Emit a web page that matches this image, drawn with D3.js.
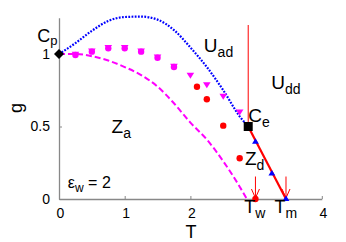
<!DOCTYPE html>
<html><head><meta charset="utf-8">
<script src="https://cdn.jsdelivr.net/npm/d3@7/dist/d3.min.js"></script>
<style>body{margin:0;background:#fff}svg{display:block;font-family:"Liberation Sans",Arial,sans-serif}</style>
</head><body><svg id="c" width="346" height="242"></svg>
<script>
// ---- data ----
const blueT = [0, 0.25, 0.5, 0.75, 1.0, 1.25, 1.5, 1.75, 2.0, 2.25, 2.5, 2.75, 2.88];
const blueG = [1.0, 1.075, 1.16, 1.228, 1.255, 1.258, 1.237, 1.165, 1.045, 0.91, 0.75, 0.57, 0.5];
const pinkT = [0, 0.25, 0.5, 0.75, 1.0, 1.25, 1.5, 1.75, 2.0, 2.25, 2.5, 2.75, 2.86];
const pinkG = [1.0, 1.0, 0.985, 0.955, 0.91, 0.855, 0.775, 0.66, 0.527, 0.41, 0.26, 0.085, 0];
const magCircT = [0.25, 0.5, 0.75, 1.0, 1.25, 1.5, 1.75];
const magCircG = [1.0, 1.023, 1.046, 1.046, 1.023, 0.981, 0.917];
const magTriT = [0.25, 0.5, 0.75, 1.0, 1.25, 1.5, 1.75, 2.0, 2.25, 2.5, 2.75];
const magTriG = [1.0, 1.023, 1.046, 1.046, 1.023, 0.981, 0.917, 0.855, 0.79, 0.71, 0.602];
const redT = [2.1, 2.25, 2.5, 2.75, 2.99];
const redG = [0.774, 0.688, 0.506, 0.281, 0];
const blueTriT = [2.99, 3.24, 3.455];
const blueTriG = [0.395, 0.177, 0];
const Cp = [0, 1];
const Ce = [2.88, 0.5];
const Tw = 2.99, Tm = 3.455;
const redVertTop = 1.2;
const arrowTop = 0.155;
const xTicks = [0, 1, 2, 3, 4];
const xTickLabels = ["0", "1", "2", "", "4"];
const yTicks = [0, 0.5, 1];
const yTickLabels = ["0", "0.5", "1"];

// ---- scales ----
const svg = d3.select("#c");
const x = d3.scaleLinear().domain([0, 4]).range([59, 321.8]);
const y = d3.scaleLinear().domain([0, 1.25]).range([199, 17.75]);
const zip = (a, b) => a.map((v, i) => [v, b[i]]);
const line = d3.line().x(d => x(d[0])).y(d => y(d[1])).curve(d3.curveMonotoneX);

// ---- axes ----
const gx = svg.append("g").attr("transform", `translate(0,${y(0)})`)
  .call(d3.axisBottom(x).tickValues(xTicks).tickFormat((d, i) => xTickLabels[i])
    .tickSizeInner(-3).tickSizeOuter(0).tickPadding(9));
const gy = svg.append("g").attr("transform", `translate(${x(0)},0)`)
  .call(d3.axisLeft(y).tickValues(yTicks).tickFormat((d, i) => yTickLabels[i])
    .tickSizeInner(-3).tickSizeOuter(0).tickPadding(9));
[gx, gy].forEach(g => {
  g.select(".domain").attr("stroke", "#888").attr("stroke-width", 1.3);
  g.selectAll(".tick line").attr("stroke", "#888");
  g.selectAll(".tick text").attr("font-size", 14).attr("fill", "#000")
    .attr("font-family", '"Liberation Sans",Arial,sans-serif');
});
gx.selectAll(".tick text").attr("dx", 1);

svg.append("text").attr("x", 191).attr("y", 238).attr("text-anchor", "middle")
  .attr("font-size", 18).text("T");
svg.append("text").attr("transform", "translate(22,108) rotate(-90)").attr("text-anchor", "middle")
  .attr("font-size", 18).text("g");

// ---- curves ----
svg.append("path").attr("d", line(zip(pinkT, pinkG))).attr("fill", "none")
  .attr("stroke", "#ff00ff").attr("stroke-width", 2).attr("stroke-dasharray", "6,3");
svg.append("path").attr("d", line(zip(blueT, blueG))).attr("fill", "none")
  .attr("stroke", "#0000ff").attr("stroke-width", 2.2).attr("stroke-dasharray", "1.8,1.4");

// red lines
svg.append("line").attr("x1", x(Ce[0])).attr("x2", x(Ce[0])).attr("y1", y(Ce[1])).attr("y2", y(redVertTop))
  .attr("stroke", "#ff0000").attr("stroke-width", 1);
svg.append("line").attr("x1", x(Ce[0])).attr("x2", x(Tm)).attr("y1", y(Ce[1])).attr("y2", y(0))
  .attr("stroke", "#ff0000").attr("stroke-width", 2.2);

// arrows
[Tw, Tm].forEach(t => {
  const px = x(t), y0 = y(arrowTop), y1 = y(0) - 1;
  svg.append("path").attr("d", `M${px},${y0}V${y1}M${px - 4},${y1 - 9}L${px},${y1}L${px + 4},${y1 - 9}`)
    .attr("fill", "none").attr("stroke", "#ff0000").attr("stroke-width", 1);
});

// markers
const tri = (cx, cy, s, down) => down
  ? `M${cx - s},${cy - s * 0.6}L${cx + s},${cy - s * 0.6}L${cx},${cy + s * 1.0}Z`
  : `M${cx - s},${cy + s * 0.6}L${cx + s},${cy + s * 0.6}L${cx},${cy - s * 1.0}Z`;
svg.append("g").selectAll("circle").data(zip(redT, redG)).join("circle")
  .attr("cx", d => x(d[0])).attr("cy", d => y(d[1])).attr("r", 3.2).attr("fill", "#ff0000");
svg.append("g").selectAll("circle").data(zip(magCircT, magCircG)).join("circle")
  .attr("cx", d => x(d[0])).attr("cy", d => y(d[1]) + 1).attr("r", 3.2).attr("fill", "#ff00ff");
svg.append("g").selectAll("path").data(zip(magTriT, magTriG)).join("path")
  .attr("d", d => tri(x(d[0]), y(d[1]), 3.8, true)).attr("fill", "#ff00ff");
svg.append("g").selectAll("path").data(zip(blueTriT, blueTriG)).join("path")
  .attr("d", d => tri(x(d[0]), y(d[1]), 3.4, false)).attr("fill", "#0000ff");

// special points
svg.append("path").attr("d", `M${x(Cp[0])},${y(Cp[1]) - 5}l5,5l-5,5l-5,-5Z`).attr("fill", "#000");
svg.append("rect").attr("x", x(Ce[0]) - 4.5).attr("y", y(Ce[1]) - 4.5).attr("width", 9).attr("height", 9).attr("fill", "#000");

// labels
function label(t, g, main, sub, size, subSize, subDy) {
  const tx = svg.append("text").attr("x", x(t)).attr("y", y(g)).attr("font-size", size);
  tx.append("tspan").text(main);
  if (sub) tx.append("tspan").attr("font-size", subSize).attr("dy", subDy).text(sub);
  return tx;
}
label(-0.33, 1.085, "C", "p", 18, 13, 3);
label(2.205, 1.014, "U", "ad", 19, 14, 5);
label(3.23, 0.759, "U", "dd", 19, 14, 5);
label(2.88, 0.531, "C", "e", 19, 14, 5);
label(0.8, 0.455, "Z", "a", 19, 14, 5);
label(2.83, 0.234, "Z", "d", 19, 14, 5);
label(2.82, -0.097, "T", "w", 18, 14, 5);
label(3.28, -0.097, "T", "m", 18, 14, 5);
const eps = svg.append("text").attr("x", x(0.135)).attr("y", y(0.076)).attr("font-size", 16);
eps.append("tspan").text("ε");
eps.append("tspan").attr("font-size", 12).attr("dy", 4).text("w");
eps.append("tspan").attr("dy", -4).text(" = 2");
</script></body></html>
